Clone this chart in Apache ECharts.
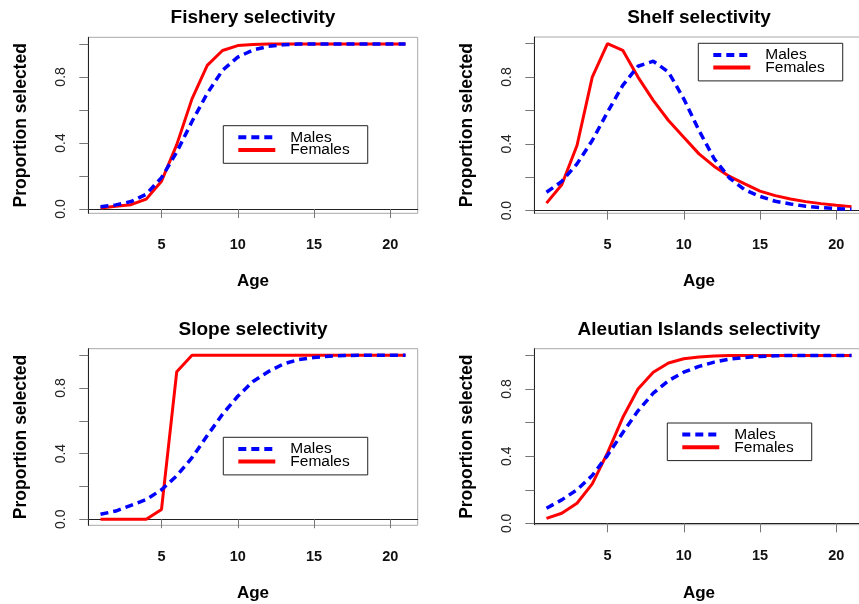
<!DOCTYPE html>
<html>
<head>
<meta charset="utf-8">
<script src="https://cdn.jsdelivr.net/npm/echarts@6/dist/echarts.min.js"></script>
<style>
  html, body { margin: 0; padding: 0; background: #fff; }
  #chart { width: 859px; height: 604px; }
</style>
</head>
<body>
<div id="chart"></div>
<script>
// Ages and selectivity-at-age by gear/area and sex
const ages = [1, 2, 3, 4, 5, 6, 7, 8, 9, 10, 11, 12, 13, 14, 15, 16, 17, 18, 19, 20, 21];

const fisheryMales   = [0.014, 0.025, 0.045, 0.09, 0.19, 0.345, 0.53, 0.70, 0.84, 0.92, 0.963, 0.985, 0.995, 1, 1, 1, 1, 1, 1, 1, 1];
const fisheryFemales = [0.006, 0.016, 0.026, 0.06, 0.168, 0.39, 0.667, 0.87, 0.96, 0.99, 0.997, 1, 1, 1, 1, 1, 1, 1, 1, 1, 1];

const shelfMales   = [0.11, 0.175, 0.28, 0.42, 0.59, 0.75, 0.865, 0.895, 0.83, 0.67, 0.48, 0.31, 0.195, 0.125, 0.085, 0.056, 0.04, 0.026, 0.018, 0.012, 0.008];
const shelfFemales = [0.045, 0.155, 0.39, 0.80, 1.0, 0.96, 0.80, 0.66, 0.54, 0.44, 0.34, 0.265, 0.205, 0.16, 0.117, 0.09, 0.07, 0.054, 0.042, 0.032, 0.024];

const slopeMales   = [0.03, 0.05, 0.085, 0.12, 0.18, 0.265, 0.375, 0.51, 0.64, 0.75, 0.84, 0.90, 0.947, 0.974, 0.986, 0.994, 0.998, 1, 1, 1, 1];
const slopeFemales = [0, 0, 0, 0, 0.06, 0.90, 1, 1, 1, 1, 1, 1, 1, 1, 1, 1, 1, 1, 1, 1, 1];

const aleutianMales   = [0.09, 0.14, 0.20, 0.285, 0.405, 0.54, 0.67, 0.775, 0.85, 0.90, 0.935, 0.96, 0.978, 0.988, 0.994, 0.998, 1, 1, 1, 1, 1];
const aleutianFemales = [0.03, 0.06, 0.12, 0.235, 0.42, 0.63, 0.80, 0.90, 0.955, 0.98, 0.99, 0.996, 1, 1, 1, 1, 1, 1, 1, 1, 1];

const panelTitles = ['Fishery selectivity', 'Shelf selectivity', 'Slope selectivity', 'Aleutian Islands selectivity'];
const xTickValues = [5, 10, 15, 20];
const yTickValues = [0, 0.2, 0.4, 0.6, 0.8, 1.0];
const yLabelValues = [0, 0.4, 0.8];

const panels = [
  { males: fisheryMales,  females: fisheryFemales,  yMin: -0.026 },
  { males: shelfMales,    females: shelfFemales,    yMin: -0.016 },
  { males: slopeMales,    females: slopeFemales,    yMin: -0.037 },
  { males: aleutianMales, females: aleutianFemales, yMin: -0.008 }
];

// plot-region geometry for the 2x2 layout
const gridBoxes = [
  { left: 88.3,  top: 37.3,  width: 329.4, height: 176 },
  { left: 534.3, top: 37,    width: 329.4, height: 176.3 },
  { left: 88.3,  top: 348.7, width: 329.4, height: 176.6 },
  { left: 534.3, top: 348.7, width: 329.4, height: 176 }
];
const titleTops = [8, 8, 320, 320];
const legendBoxes = [
  { left: 223.3, top: 125.7 },
  { left: 698.3, top: 43.3 },
  { left: 223.3, top: 437.3 },
  { left: 667.3, top: 423 }
];

const FONT = "'Liberation Sans', Arial, Helvetica, sans-serif";
const MALE_DASH = [8, 5];
const pair = vals => ages.map((a, i) => [a, vals[i]]);

const grid = gridBoxes.map(b => ({
  left: b.left, top: b.top, width: b.width, height: b.height,
  outerBoundsMode: 'none', containLabel: false,
  show: true, borderColor: '#a8a8a8', borderWidth: 1, backgroundColor: 'transparent'
}));

const xAxis = gridBoxes.map((b, i) => ({
  type: 'value', gridIndex: i, min: 0.2, max: 21.8,
  name: 'Age', nameLocation: 'middle', nameGap: 60,
  nameTextStyle: { fontFamily: FONT, fontSize: 17, fontWeight: 'bold', color: '#000' },
  axisLine: { show: true, lineStyle: { color: '#222', width: 1 } },
  axisTick: { show: true, customValues: xTickValues, length: 9, inside: false, lineStyle: { color: '#777' } },
  axisLabel: { show: true, customValues: xTickValues, margin: 24, fontFamily: FONT, fontSize: 14.5, fontWeight: 'bold', color: '#111' },
  splitLine: { show: false }
}));

const yAxis = panels.map((p, i) => ({
  type: 'value', gridIndex: i, min: p.yMin, max: 1.04,
  name: 'Proportion selected', nameLocation: 'middle', nameGap: 58,
  nameTextStyle: { fontFamily: FONT, fontSize: 17.5, fontWeight: 'bold', color: '#000' },
  axisLine: { show: true, lineStyle: { color: '#222', width: 1 } },
  axisTick: { show: true, customValues: yTickValues, length: 9, inside: false, lineStyle: { color: '#777' } },
  axisLabel: {
    show: true, customValues: yLabelValues, rotate: 90, margin: 20,
    fontFamily: FONT, fontSize: 14, color: '#222',
    formatter: v => v.toFixed(1)
  },
  splitLine: { show: false }
}));

const title = panelTitles.map((t, i) => ({
  text: t,
  left: gridBoxes[i].left + gridBoxes[i].width / 2,
  top: titleTops[i],
  textAlign: 'center',
  padding: 0,
  textStyle: { fontFamily: FONT, fontSize: 19, fontWeight: 'bold', color: '#000' }
}));

const legend = legendBoxes.map(b => ({
  data: [
    { name: 'Males', lineStyle: { color: '#0000ff', width: 4, type: MALE_DASH, cap: 'butt' } },
    { name: 'Females', lineStyle: { color: '#ff0000', width: 4, type: 'solid' } }
  ],
  orient: 'vertical',
  left: b.left, top: b.top,
  padding: [3.6, 18, 5.3, 13],
  itemWidth: 37, itemHeight: 12.7, itemGap: -3.3,
  selectedMode: false,
  borderColor: '#222', borderWidth: 1, backgroundColor: '#fff',
  itemStyle: { color: 'rgba(0,0,0,0)', borderColor: 'rgba(0,0,0,0)', borderWidth: 0, opacity: 0 },
  textStyle: { fontFamily: FONT, fontSize: 15.5, color: '#000', padding: [0, 0, 0, 10] }
}));

const series = [];
panels.forEach((p, i) => {
  series.push({
    name: 'Females', type: 'line', xAxisIndex: i, yAxisIndex: i,
    data: pair(p.females), symbol: 'none', showSymbol: false, clip: true,
    lineStyle: { color: '#ff0000', width: 3, type: 'solid' },
    itemStyle: { color: '#ff0000' }, z: 2
  });
  series.push({
    name: 'Males', type: 'line', xAxisIndex: i, yAxisIndex: i,
    data: pair(p.males), symbol: 'none', showSymbol: false, clip: true,
    lineStyle: { color: '#0000ff', width: 3.5, type: MALE_DASH, cap: 'butt' },
    itemStyle: { color: '#0000ff' }, z: 3
  });
});

const chart = echarts.init(document.getElementById('chart'), null, { renderer: 'canvas' });
chart.setOption({
  animation: false,
  backgroundColor: '#fff',
  title, legend, grid, xAxis, yAxis, series
});
</script>
</body>
</html>
